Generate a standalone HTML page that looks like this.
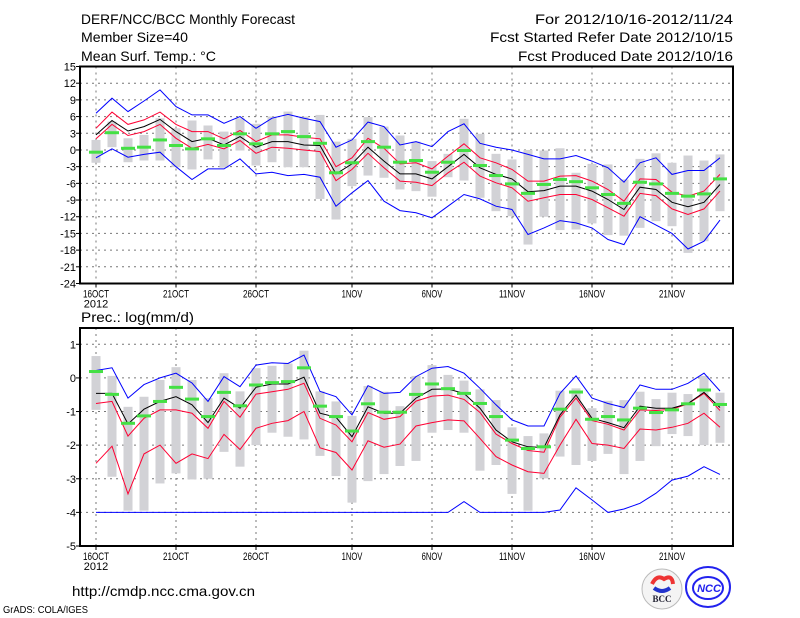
<!DOCTYPE html>
<html><head><meta charset="utf-8"><style>
html,body{margin:0;padding:0;background:#fff;}
svg{display:block;font-family:"Liberation Sans",sans-serif;}
</style></head><body>
<svg id="chart" width="800" height="618" xmlns="http://www.w3.org/2000/svg">
<g font-size="14" fill="#000">
<text x="81" y="24" textLength="214" lengthAdjust="spacingAndGlyphs">DERF/NCC/BCC Monthly Forecast</text>
<text x="81" y="42" textLength="107" lengthAdjust="spacingAndGlyphs">Member Size=40</text>
<text x="81" y="61" textLength="135" lengthAdjust="spacingAndGlyphs">Mean Surf. Temp.: °C</text>
<text x="733" y="24" text-anchor="end" textLength="198" lengthAdjust="spacingAndGlyphs">For 2012/10/16-2012/11/24</text>
<text x="733" y="42" text-anchor="end" textLength="243" lengthAdjust="spacingAndGlyphs">Fcst Started Refer Date 2012/10/15</text>
<text x="733" y="61" text-anchor="end" textLength="215" lengthAdjust="spacingAndGlyphs">Fcst Produced Date 2012/10/16</text>
<text x="81" y="322" textLength="113" lengthAdjust="spacingAndGlyphs">Prec.: log(mm/d)</text>
<text x="72" y="596" textLength="183" lengthAdjust="spacingAndGlyphs">http://cmdp.ncc.cma.gov.cn</text>
<text x="3" y="613" font-size="10" textLength="85" lengthAdjust="spacingAndGlyphs">GrADS: COLA/IGES</text>
</g>
<g>
<circle cx="662" cy="589" r="20" fill="#f4f4f4" stroke="#bbb"/>
<path d="M652 584 q5 -10 12 -5 q8 -5 9 5" fill="none" stroke="#e33" stroke-width="4"/>
<path d="M654 588 q8 6 16 0" fill="none" stroke="#23c" stroke-width="4"/>
<text x="662" y="602" font-size="9" font-family="Liberation Serif,serif" font-weight="bold" text-anchor="middle" fill="#223">BCC</text>
</g>
<g>
<ellipse cx="708" cy="587" rx="22" ry="20" fill="none" stroke="#22e" stroke-width="2"/>
<ellipse cx="708" cy="588" rx="15" ry="11" fill="none" stroke="#22e" stroke-width="2"/>
<text x="709" y="592" font-size="11" font-style="italic" font-weight="bold" text-anchor="middle" fill="#22e">NCC</text>
</g>
<g id="panels"></g>
</svg>
<script>
// ---- Data ----
const days = ["16OCT","17OCT","18OCT","19OCT","20OCT","21OCT","22OCT","23OCT","24OCT","25OCT","26OCT","27OCT","28OCT","29OCT","30OCT","31OCT","1NOV","2NOV","3NOV","4NOV","5NOV","6NOV","7NOV","8NOV","9NOV","10NOV","11NOV","12NOV","13NOV","14NOV","15NOV","16NOV","17NOV","18NOV","19NOV","20NOV","21NOV","22NOV","23NOV","24NOV"];
const xTickLabels = ["16OCT","21OCT","26OCT","1NOV","6NOV","11NOV","16NOV","21NOV"];
const tTicks = [15,12,9,6,3,0,-3,-6,-9,-12,-15,-18,-21,-24];
const pTicks = [1,0,-1,-2,-3,-4,-5];

const tBlueHi = [6.6,9.3,6.9,8.8,10.8,7.8,6.3,6.3,4.8,6,3.9,5.7,6.4,5.7,5.1,0.5,1.8,5,4.2,0.9,1.5,0.6,3.3,4.7,1.2,0.5,0,-0.8,-1.6,-1.6,-1,-2,-3.2,-5.8,-2.3,-1.4,-4.4,-3.7,-3.7,-1.4];
const tRedHi = [3.9,6.8,4.6,5.4,6.8,4.6,3.3,3.3,2,3.5,1.5,2.7,2.7,2.3,2,-3,-1.4,2.1,0.3,-2.5,-2.3,-3.4,-1.1,1.1,-1.4,-2.3,-3.5,-5.6,-5.6,-4.7,-4.6,-5.6,-7.1,-9.2,-5.2,-5.3,-7.6,-8.3,-7.4,-4.4];
const tMean = [2.7,5.3,3.4,4.2,5.5,3.3,1.5,2.1,0.9,2.4,0.5,1.5,1.5,0.9,0.8,-4.3,-2.5,0.5,-2,-4.3,-4.3,-5.2,-3,-0.8,-3.2,-4.4,-5.2,-7.5,-7.3,-6.5,-6.5,-7.4,-8.9,-10.7,-6.7,-7.1,-9.4,-10.2,-9.4,-6.2];
const tRedLo = [2,4.6,2.6,3.3,4.6,2.1,0.3,1,0.2,1.7,-0.6,0.5,0.3,0,-0.3,-5.5,-3.5,-0.6,-3.2,-5.6,-5.8,-6.4,-4.1,-2.2,-4.7,-5.9,-6.8,-9.2,-8.6,-8,-8,-8.9,-10.4,-11.9,-7.8,-8.2,-10.6,-11.6,-10.6,-7.4];
const tBlueLo = [-1.4,0.2,-1.3,-0.8,-0.4,-3,-5.3,-3.4,-3.4,-1.6,-4.3,-4,-4.6,-4.4,-4.9,-10.1,-7.7,-5.5,-9.2,-10.9,-11.3,-12.2,-10.1,-8,-8.8,-10.1,-10.7,-15.2,-14,-12.7,-13.1,-14,-16.1,-17,-12,-13.5,-15,-17.8,-16.4,-12.6];
const tObs = [-0.4,3.1,0.3,0.5,1.8,0.8,0.2,2.0,0.8,2.9,1.1,2.9,3.3,2.4,1.2,-4.1,-2.3,1.5,0.5,-2.2,-1.9,-4,-2.2,-0.1,-2.8,-4.6,-6.1,-7.8,-6.2,-5.3,-5.7,-6.8,-8,-9.6,-5.8,-6.1,-7.8,-8.3,-7.9,-5.2];
const tBoxMax = [1.8,5.1,2.1,2.7,5.7,3.9,5.3,4.4,3.3,5.7,4.7,6,6.9,6,6.3,1.5,2,5.9,4.2,2.6,1.5,-2,-0.7,5.6,2.9,-0.7,-1.7,0,-0.1,0.3,-4.1,-2.5,-2.6,-5.3,-1.6,-0.6,-2.3,-1,-1.9,-0.8];
const tBoxMin = [-2.3,0.5,-2.2,-1.9,-1.9,-3.1,-3.5,-1.7,-3.2,-0.1,-2.8,-2.2,-3.1,-3.1,-8.8,-12.5,-6.5,-4.6,-5,-7.1,-7.4,-8.4,-4.9,-5.5,-8.6,-11,-11.9,-17,-12,-14.4,-14.3,-13.2,-15.3,-15.4,-14,-12.8,-13.7,-18.5,-16.4,-11];

const pBlueHi = [0.22,0.3,-0.6,-0.2,0,0.14,-0.15,-0.7,0.04,-0.26,0.38,0.45,0.43,0.68,-0.4,-0.56,-1.1,-0.23,-0.46,-0.43,0.04,0.29,0.34,0.14,-0.31,-0.8,-1.25,-1.43,-1.43,-0.46,0.06,-0.6,-0.76,-0.88,-0.21,-0.34,-0.34,-0.16,0.14,-0.39];
const pMean = [-0.46,-0.46,-1.37,-0.93,-0.7,-0.56,-0.8,-1.33,-0.6,-0.9,-0.28,-0.18,-0.18,0.02,-1.05,-1.17,-1.75,-0.86,-1.05,-1.05,-0.6,-0.34,-0.33,-0.46,-0.9,-1.55,-1.9,-2.05,-2.07,-1.1,-0.51,-1.2,-1.33,-1.48,-0.84,-0.9,-0.9,-0.76,-0.43,-0.88];
const pRedHi = [-0.76,-0.7,-1.73,-1.2,-0.95,-0.95,-1.05,-1.5,-0.7,-1.17,-0.48,-0.41,-0.34,-0.16,-1.2,-1.4,-1.9,-1.03,-1.23,-1.15,-0.69,-0.54,-0.51,-0.64,-1.03,-1.67,-1.95,-2.16,-2.21,-1.17,-0.6,-1.27,-1.38,-1.55,-0.95,-0.97,-0.93,-0.77,-0.46,-0.97];
const pRedLo = [-2.54,-2.03,-3.45,-2.26,-2,-2.54,-2.26,-2.4,-1.68,-2.13,-1.5,-1.35,-1.27,-1,-2.08,-2.22,-2.74,-1.87,-2.06,-1.97,-1.43,-1.33,-1.25,-1.28,-1.8,-2.34,-2.59,-2.79,-2.84,-2,-1.23,-1.95,-2,-2.1,-1.52,-1.55,-1.47,-1.35,-1.05,-1.47];
const pBlueLo = [-4,-4,-4,-4,-4,-4,-4,-4,-4,-4,-4,-4,-4,-4,-4,-4,-4,-4,-4,-4,-4,-4,-4,-3.68,-4,-4,-4,-4,-4,-3.93,-3.27,-3.63,-4,-3.9,-3.73,-3.43,-3.04,-2.92,-2.64,-2.87];
const pObs = [0.19,-0.49,-1.35,-1.13,-0.7,-0.28,-0.63,-1.15,-0.43,-0.83,-0.21,-0.14,-0.11,0.3,-0.84,-1.15,-1.58,-0.77,-1.02,-1.02,-0.49,-0.18,-0.32,-0.46,-0.76,-1.15,-1.85,-2.1,-2.05,-0.93,-0.42,-1.23,-1.15,-1.25,-0.9,-1.03,-0.95,-0.77,-0.36,-0.79];
const pBoxMax = [0.65,0.06,-0.86,-0.56,-0.06,0.32,-0.06,-0.6,0.14,-0.4,0.29,0.36,0.43,0.81,-0.4,-0.7,-1.13,-0.24,-0.41,-0.84,0.06,0.38,0.09,-0.08,-0.34,-0.66,-1.47,-1.73,-1.65,-0.38,-0.31,-0.9,-0.68,-0.66,-0.41,-0.63,-0.44,-0.48,0.06,-0.44];
const pBoxMin = [-0.95,-2.94,-3.95,-3.95,-3.14,-2.84,-3.02,-3,-2.2,-2.64,-2,-1.63,-1.75,-1.83,-2.32,-2.92,-3.71,-3.07,-2.86,-2.62,-2.47,-1.63,-1.55,-1.63,-2.76,-2.59,-3.45,-3.95,-2.99,-2.34,-2.59,-2.47,-2.26,-2.86,-2.47,-2.03,-1.67,-1.73,-2,-1.93];

// ---- Drawing ----
const NS = "http://www.w3.org/2000/svg";
const root = document.getElementById('panels');
function mk(tag, attrs, parent) {
  const e = document.createElementNS(NS, tag);
  for (const k in attrs) e.setAttribute(k, attrs[k]);
  (parent || root).appendChild(e);
  return e;
}
const X0 = 80, X1 = 733;
function xDay(i) { return 96 + 16 * i; }

function drawPanel(cfg) {
  const g = mk('g', {});
  
  
  const vmax = cfg.ticks[0], vmin = cfg.ticks[cfg.ticks.length - 1];
  const y = v => cfg.yTop + (vmax - v) / (vmax - vmin) * (cfg.yBot - cfg.yTop);
  cfg.ticks.forEach(t => {
    const yy = y(t);
    if (t !== vmin && Math.abs(yy - cfg.frameTop) > 2) {
      const gl = mk('line', {x1: X0, x2: X1, y1: yy, y2: yy, stroke: '#777', 'stroke-width': 1, 'stroke-dasharray': '2,4'}, g);
      
      
    }
    mk('line', {x1: X0 - 4, x2: X0, y1: yy, y2: yy, stroke: '#000'}, g);
    const tl = mk('text', {x: X0 - 4, y: yy + 4, 'font-size': 11, 'text-anchor': 'end'}, g);
    tl.textContent = t;
    
    
  });
  xTickLabels.forEach(lbl => {
    const i = days.indexOf(lbl);
    const xx = xDay(i);
    const gl = mk('line', {x1: xx, x2: xx, y1: cfg.frameTop, y2: cfg.yBot, stroke: '#777', 'stroke-dasharray': '2,4'}, g);
    
    
    mk('line', {x1: xx, x2: xx, y1: cfg.yBot, y2: cfg.yBot + 4, stroke: '#000'}, g);
    const tl = mk('text', {x: xx, y: cfg.yBot + 14, 'font-size': 11, 'text-anchor': 'middle', textLength: lbl.length * 5.2, lengthAdjust: 'spacingAndGlyphs'}, g);
    tl.textContent = lbl;
    
    
  });
  const yr = mk('text', {x: 96, y: cfg.yBot + 24, 'font-size': 11, 'text-anchor': 'middle'}, g);
  yr.textContent = '2012';
  
  
  cfg.boxMax.forEach((mx, i) => {
    const a = y(mx), b = y(cfg.boxMin[i]);
    const r = mk('rect', {x: xDay(i) - 4.5, y: a, width: 9, height: b - a, fill: '#d2d2d6'}, g);
    
    
  });
  const series = [[cfg.blueLo, '#0000ff', 'lower-bound-line'], [cfg.blueHi, '#0000ff', 'upper-bound-line'], [cfg.redLo, '#ff0033', 'lower-quartile-line'], [cfg.redHi, '#ff0033', 'upper-quartile-line'], [cfg.mean, '#000000', 'ensemble-mean-line']];
  series.forEach(s => {
    const pts = s[0].map((v, i) => xDay(i) + ',' + y(v).toFixed(1)).join(' ');
    const pl = mk('polyline', {points: pts, fill: 'none', stroke: s[1], 'stroke-width': 1}, g);
    
    
  });
  cfg.obs.forEach((v, i) => {
    const r = mk('rect', {x: xDay(i) - 7, y: y(v) - 1.5, width: 14, height: 3, fill: '#44e044'}, g);
    
    
  });
  const fr = mk('rect', {x: X0, y: cfg.frameTop, width: X1 - X0, height: cfg.yBot - cfg.frameTop, fill: 'none', stroke: '#000', 'stroke-width': 2}, g);
  
  
}

drawPanel({name: 'temperature-panel', ticks: tTicks, yTop: 66.5, yBot: 283.5, frameTop: 66.5,
  blueHi: tBlueHi, blueLo: tBlueLo, redHi: tRedHi, redLo: tRedLo, mean: tMean, obs: tObs, boxMax: tBoxMax, boxMin: tBoxMin});
drawPanel({name: 'precipitation-panel', ticks: pTicks, yTop: 344.3, yBot: 546, frameTop: 328,
  blueHi: pBlueHi, blueLo: pBlueLo, redHi: pRedHi, redLo: pRedLo, mean: pMean, obs: pObs, boxMax: pBoxMax, boxMin: pBoxMin});
</script>
</body></html>
